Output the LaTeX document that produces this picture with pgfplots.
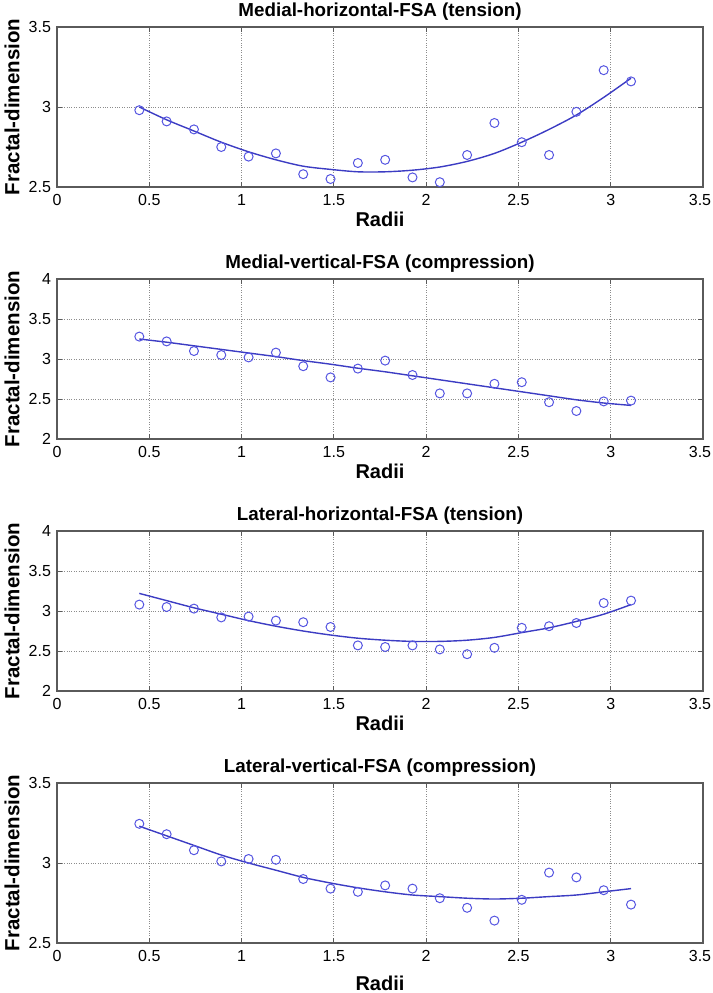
\documentclass[border=0pt]{standalone}
\usepackage{pgfplots}
\pgfplotsset{compat=1.18}
\usepackage{fontspec}
\setmainfont{Liberation Sans}
\definecolor{mk}{RGB}{85,85,225}
\definecolor{ln}{RGB}{60,60,195}
\definecolor{ax}{RGB}{90,90,90}
\pgfplotsset{
  panel/.style={
    scale only axis, width=646pt, height=160pt,
    anchor=north west,
    xmin=0, xmax=3.5,
    xtick={0,0.5,1,1.5,2,2.5,3,3.5},
    xticklabels={0,0.5,1,1.5,2,2.5,3,{\kern-6pt 3.5}},
    grid=major,
    major grid style={dotted, line width=0.9pt, black!45},
    axis line style={ax, line width=1.5pt},
    tick align=inside, major tick length=5pt,
    tick style={ax, line width=1pt},
    tick label style={font=\fontsize{16}{18}\selectfont},
    xticklabel style={yshift=-3.5pt},
    yticklabel style={xshift=-2.5pt},
    xlabel={Radii}, ylabel={Fractal-dimension},
    xlabel style={font=\bfseries\fontsize{20}{22}\selectfont, at={(axis description cs:0.5,-0.2)}, anchor=center},
    ylabel style={font=\bfseries\fontsize{20.5}{22}\selectfont, at={(axis description cs:-0.0697,0.5)}, anchor=center},
    title style={font=\bfseries\fontsize{18.8}{20}\selectfont, at={(axis description cs:0.5,1.031)}, anchor=base},
  },
  pts/.style={only marks, mark=o, mark size=4.5pt, mark options={mk, line width=1pt}},
  fit/.style={ln, line width=1.4pt, smooth, no marks},
}
\begin{document}
\begin{tikzpicture}[x=1pt,y=1pt]
\useasboundingbox (0,0) rectangle (712,-993);

% Panel 1
\begin{axis}[panel, at={(57pt,-27pt)}, ymin=2.5, ymax=3.5,
  ytick={2.5,3,3.5}, yticklabels={2.5,3,3.5},
  title={Medial-horizontal-FSA (tension)}]
\addplot[fit] coordinates {(0.446,3.00) (0.594,2.92) (0.742,2.85) (0.890,2.78) (1.038,2.72) (1.186,2.67) (1.334,2.63) (1.482,2.61) (1.630,2.595) (1.778,2.595) (1.926,2.605) (2.074,2.625) (2.222,2.66) (2.370,2.71) (2.518,2.78) (2.666,2.86) (2.814,2.95) (2.962,3.06) (3.110,3.18)};
\addplot[pts] coordinates {(0.446,2.98) (0.594,2.91) (0.742,2.86) (0.890,2.75) (1.038,2.69) (1.186,2.71) (1.334,2.58) (1.482,2.55) (1.630,2.65) (1.778,2.67) (1.926,2.56) (2.074,2.53) (2.222,2.70) (2.370,2.90) (2.518,2.78) (2.666,2.70) (2.814,2.97) (2.962,3.23) (3.110,3.16)};
\end{axis}

% Panel 2
\begin{axis}[panel, at={(57pt,-279pt)}, ymin=2, ymax=4,
  ytick={2,2.5,3,3.5,4}, yticklabels={2,2.5,3,3.5,4},
  title={Medial-vertical-FSA (compression)}]
\addplot[fit] coordinates {(0.446,3.25) (0.594,3.21) (0.742,3.165) (0.890,3.12) (1.038,3.075) (1.186,3.03) (1.334,2.98) (1.482,2.935) (1.630,2.885) (1.778,2.84) (1.926,2.79) (2.074,2.74) (2.222,2.69) (2.370,2.64) (2.518,2.59) (2.666,2.54) (2.814,2.49) (2.962,2.45) (3.110,2.42)};
\addplot[pts] coordinates {(0.446,3.28) (0.594,3.22) (0.742,3.10) (0.890,3.05) (1.038,3.02) (1.186,3.08) (1.334,2.91) (1.482,2.77) (1.630,2.88) (1.778,2.98) (1.926,2.80) (2.074,2.57) (2.222,2.57) (2.370,2.69) (2.518,2.71) (2.666,2.46) (2.814,2.35) (2.962,2.47) (3.110,2.48)};
\end{axis}

% Panel 3
\begin{axis}[panel, at={(57pt,-531pt)}, ymin=2, ymax=4,
  ytick={2,2.5,3,3.5,4}, yticklabels={2,2.5,3,3.5,4},
  title={Lateral-horizontal-FSA (tension)}]
\addplot[fit] coordinates {(0.446,3.22) (0.594,3.13) (0.742,3.04) (0.890,2.96) (1.038,2.88) (1.186,2.81) (1.334,2.75) (1.482,2.70) (1.630,2.66) (1.778,2.635) (1.926,2.62) (2.074,2.62) (2.222,2.635) (2.370,2.67) (2.518,2.73) (2.666,2.79) (2.814,2.87) (2.962,2.96) (3.110,3.08)};
\addplot[pts] coordinates {(0.446,3.08) (0.594,3.05) (0.742,3.03) (0.890,2.92) (1.038,2.93) (1.186,2.88) (1.334,2.86) (1.482,2.80) (1.630,2.57) (1.778,2.55) (1.926,2.57) (2.074,2.52) (2.222,2.46) (2.370,2.54) (2.518,2.79) (2.666,2.81) (2.814,2.85) (2.962,3.10) (3.110,3.13)};
\end{axis}

% Panel 4
\begin{axis}[panel, at={(57pt,-783pt)}, ymin=2.5, ymax=3.5,
  ytick={2.5,3,3.5}, yticklabels={2.5,3,3.5},
  xlabel style={at={(axis description cs:0.5,-0.25)}},
  title={Lateral-vertical-FSA (compression)}]
\addplot[fit] coordinates {(0.446,3.23) (0.594,3.17) (0.742,3.11) (0.890,3.05) (1.038,3.00) (1.186,2.955) (1.334,2.91) (1.482,2.875) (1.630,2.845) (1.778,2.82) (1.926,2.80) (2.074,2.79) (2.222,2.78) (2.370,2.775) (2.518,2.78) (2.666,2.79) (2.814,2.80) (2.962,2.82) (3.110,2.84)};
\addplot[pts] coordinates {(0.446,3.245) (0.594,3.18) (0.742,3.08) (0.890,3.01) (1.038,3.025) (1.186,3.02) (1.334,2.90) (1.482,2.84) (1.630,2.82) (1.778,2.86) (1.926,2.84) (2.074,2.78) (2.222,2.72) (2.370,2.64) (2.518,2.77) (2.666,2.94) (2.814,2.91) (2.962,2.83) (3.110,2.74)};
\end{axis}
\end{tikzpicture}
\end{document}
